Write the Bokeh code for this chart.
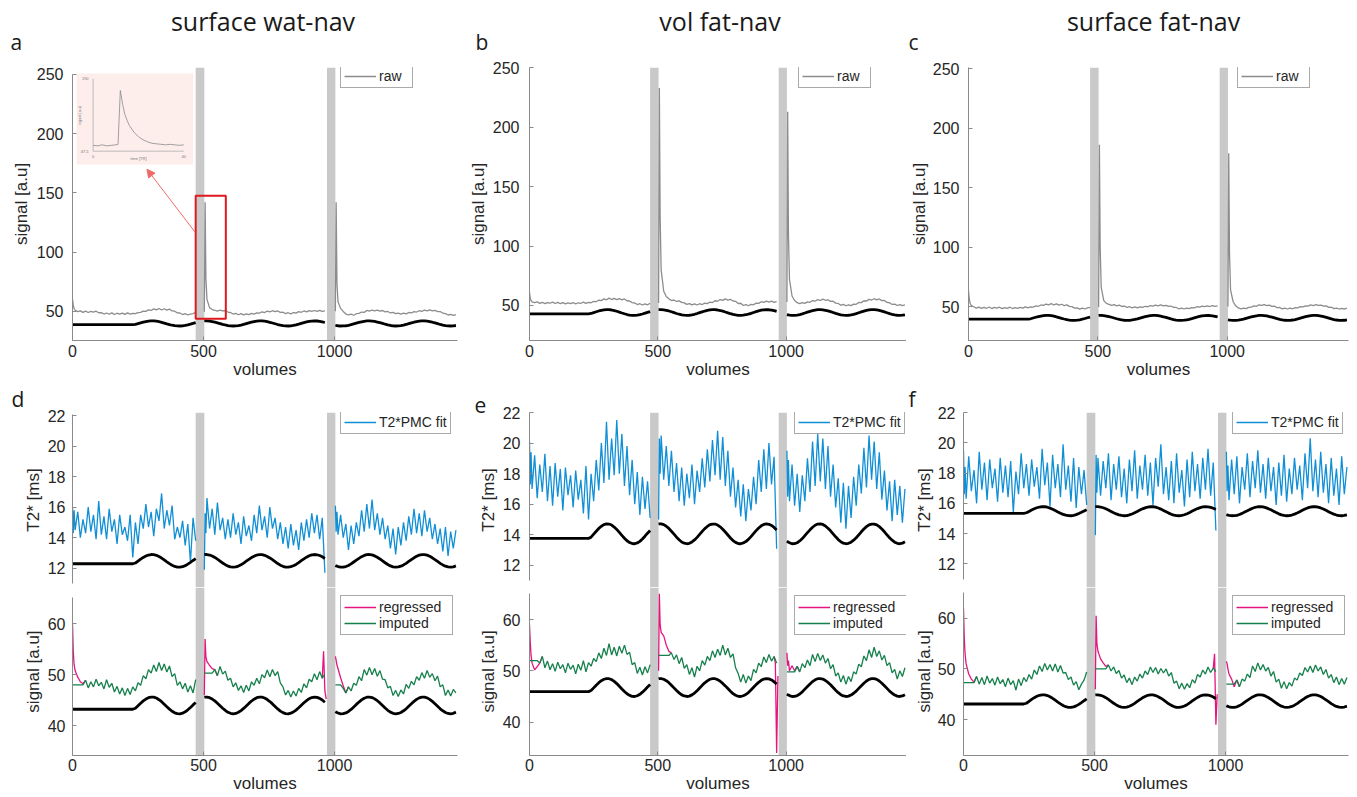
import math
from bokeh.plotting import figure
from bokeh.models import (Range1d, BoxAnnotation, Legend, LegendItem,
                          Arrow, NormalHead, FixedTicker)
from bokeh.layouts import row, column
from bokeh.embed import file_html
from bokeh.resources import INLINE
from bokeh.core.properties import value

nan = float("nan")

# ------------------------------------------------------------------ data
# sample volumes of the three runs (gaps between runs shown as grey bars)
vol_run1 = [0, 3, 6] + list(range(10, 471, 10))
vol_run2 = [503, 506, 509] + list(range(513, 964, 10))
vol_run3 = [1003, 1006, 1009] + list(range(1013, 1464, 10))
gap_bars = [(470, 503), (971, 1003)]

col_titles = ["surface wat-nav", "vol fat-nav", "surface fat-nav"]
letters_top = ["a", "b", "c"]
letters_bottom = ["d", "e", "f"]

x_ticks = [0, 500, 1000]
raw_ticks = [50, 100, 150, 200, 250]
t2_ticks = [12, 14, 16, 18, 20, 22]
sig_ticks = [40, 50, 60]

# stimulus (black trace), normalised 0 = trough, 1 = peak
stim_run1 = [0.27, 0.27, 0.27, 0.27, 0.27, 0.27, 0.27, 0.27, 0.27, 0.27,
             0.27, 0.27, 0.27, 0.27, 0.27, 0.27, 0.27, 0.27, 0.27, 0.27,
             0.27, 0.27, 0.27, 0.27, 0.27, 0.27, 0.33, 0.48, 0.63, 0.77,
             0.88, 0.96, 1.0, 0.99, 0.94, 0.84, 0.72, 0.57, 0.42, 0.28,
             0.15, 0.06, 0.01, 0.0, 0.04, 0.12, 0.24, 0.38, 0.53, 0.67]
stim_run2 = [0.99, 1.0, 1.0, 1.0, 0.96, 0.88, 0.77, 0.63, 0.48, 0.33,
             0.20, 0.09, 0.03, 0.0, 0.02, 0.09, 0.19, 0.32, 0.47, 0.62,
             0.76, 0.87, 0.96, 0.99, 0.99, 0.94, 0.85, 0.73, 0.59, 0.44,
             0.29, 0.16, 0.07, 0.01, 0.0, 0.04, 0.11, 0.22, 0.36, 0.51,
             0.66, 0.79, 0.90, 0.97, 1.0, 0.98, 0.92, 0.82, 0.69]
stim_run3 = [0.13, 0.10, 0.08, 0.05, 0.0, 0.01, 0.05, 0.14, 0.26, 0.41,
             0.56, 0.70, 0.83, 0.93, 0.99, 1.0, 0.97, 0.89, 0.78, 0.65,
             0.50, 0.35, 0.21, 0.10, 0.03, 0.0, 0.02, 0.08, 0.18, 0.30,
             0.45, 0.60, 0.74, 0.86, 0.95, 0.99, 0.99, 0.95, 0.86, 0.74,
             0.60, 0.45, 0.30, 0.18, 0.08, 0.02, 0.0, 0.03, 0.10]

# stimulus display levels (trough, peak) per panel
stim_a = (37.5, 41.8)
stim_b = (41.7, 46.5)
stim_c = (38.3, 42.5)
stim_d_t2 = (12.07, 12.9)
stim_d_sig = (42.3, 45.6)
stim_e_t2 = (13.42, 14.72)
stim_e_sig = (45.0, 48.5)
stim_f_t2 = (15.18, 15.78)
stim_f_sig = (42.4, 44.9)

# raw navigator signal (top row)
raw_a_1 = [60.0, 55.0, 52.3, 50.8, 49.6, 50.3, 49.0, 50.1, 48.9, 49.8,
           49.2, 50.0, 48.7, 48.8, 47.6, 48.5, 47.4, 48.6, 47.2, 48.3,
           47.5, 48.4, 47.3, 48.6, 47.6, 48.2, 47.9, 48.8, 49.0, 50.1,
           49.9, 51.2, 50.6, 52.0, 51.1, 52.3, 51.0, 52.1, 50.9, 51.8,
           50.2, 50.0, 48.6, 48.5, 47.2, 47.9, 46.8, 47.6, 48.0, 49.1]
raw_a_2 = [49.5, 142.0, 78.0, 60.0, 53.0, 51.4, 50.8, 50.0, 51.0, 50.2,
           50.6, 49.3, 48.9, 47.6, 48.2, 47.0, 47.9, 46.9, 47.8, 47.1,
           48.2, 47.6, 48.6, 48.3, 49.5, 48.9, 50.1, 49.4, 50.4, 49.6,
           50.2, 49.0, 49.1, 48.0, 48.7, 47.8, 48.9, 48.4, 49.6, 49.1,
           50.2, 49.5, 50.5, 49.8, 50.6, 49.9, 50.7, 49.8, 50.3]
raw_a_3 = [50.0, 142.0, 74.0, 58.0, 52.4, 49.8, 47.6, 46.8, 47.5, 46.6,
           47.9, 48.2, 49.3, 49.0, 50.6, 50.0, 51.0, 50.2, 50.9, 50.1,
           50.6, 49.4, 49.8, 48.5, 49.0, 47.9, 48.4, 47.6, 48.3, 47.8,
           48.9, 48.5, 49.6, 49.3, 50.4, 49.9, 51.0, 50.3, 51.1, 50.2,
           50.8, 49.6, 49.7, 48.3, 48.0, 46.8, 47.3, 46.5, 47.2]
raw_b_1 = [61.0, 56.0, 54.2, 53.1, 52.4, 53.0, 51.8, 52.7, 51.6, 52.5,
           51.9, 52.8, 51.7, 52.6, 51.5, 52.4, 51.3, 52.2, 51.6, 52.5,
           51.4, 52.3, 51.7, 52.9, 51.8, 52.6, 52.3, 53.5, 53.2, 54.6,
           54.1, 55.6, 54.8, 56.2, 55.0, 56.0, 54.9, 55.8, 54.7, 55.5,
           54.0, 53.8, 52.4, 52.1, 50.8, 51.5, 50.4, 51.3, 50.6, 51.8]
raw_b_2 = [52.0, 233.0, 125.0, 80.0, 62.0, 57.5, 55.6, 54.2, 54.6, 53.4,
           53.9, 52.6, 52.2, 50.9, 51.6, 50.5, 51.3, 50.4, 51.5, 50.8,
           52.0, 51.6, 52.9, 52.5, 54.0, 53.6, 55.0, 54.3, 55.6, 54.5,
           55.2, 53.8, 53.5, 51.6, 51.9, 50.0, 50.8, 49.8, 51.0, 50.6,
           52.0, 51.8, 53.2, 52.6, 53.7, 52.8, 53.6, 52.7, 53.3]
raw_b_3 = [53.0, 213.0, 110.0, 72.0, 58.0, 54.2, 52.4, 51.6, 52.5, 51.8,
           53.0, 52.7, 54.2, 53.6, 55.0, 54.2, 55.3, 54.4, 54.8, 53.5,
           53.6, 52.0, 51.7, 50.2, 50.9, 49.8, 50.6, 49.9, 51.2, 51.0,
           52.6, 52.4, 54.0, 53.7, 55.2, 54.6, 55.7, 54.8, 55.5, 54.1,
           54.3, 52.6, 52.3, 50.9, 51.2, 50.0, 50.8, 49.9, 50.6]
raw_c_1 = [63.0, 56.5, 53.0, 51.0, 49.8, 48.6, 49.5, 48.4, 49.3, 48.5,
           49.6, 48.3, 49.2, 48.6, 49.4, 48.2, 49.1, 48.5, 49.4, 48.3,
           49.0, 48.4, 49.3, 48.6, 49.7, 48.9, 49.6, 49.4, 50.5, 50.2,
           51.3, 50.9, 52.1, 51.4, 52.4, 51.3, 52.2, 51.2, 51.9, 50.8,
           51.4, 50.1, 49.9, 48.6, 48.9, 47.8, 48.6, 47.9, 48.8, 49.3]
raw_c_2 = [49.5, 186.0, 100.0, 66.0, 55.0, 52.6, 51.8, 51.0, 51.6, 50.6,
           51.2, 50.0, 50.3, 49.2, 49.8, 48.9, 49.6, 48.8, 49.7, 49.3,
           50.2, 49.8, 50.7, 50.3, 51.2, 50.6, 51.3, 50.5, 51.0, 50.1,
           50.4, 49.3, 49.2, 48.1, 48.6, 47.9, 48.7, 48.2, 49.1, 48.8,
           49.8, 49.5, 50.4, 49.9, 50.6, 50.0, 50.8, 50.1, 50.5]
raw_c_3 = [50.0, 179.0, 95.0, 64.0, 54.0, 50.6, 48.8, 48.0, 48.7, 48.2,
           49.3, 49.4, 50.5, 50.2, 51.4, 50.9, 51.6, 50.8, 51.2, 50.1,
           50.3, 49.0, 49.2, 48.0, 48.6, 47.9, 48.6, 48.1, 49.0, 48.9,
           49.9, 49.7, 50.6, 50.3, 51.3, 50.8, 51.5, 50.9, 51.2, 50.3,
           50.5, 49.3, 49.4, 48.2, 48.6, 47.9, 48.5, 47.8, 48.6]

# T2* PMC fit (ms)
t2_d_1 = [16.0, 14.3, 15.8, 14.5, 15.7, 14.0, 15.2, 14.3, 16.0, 14.4,
          15.5, 13.9, 16.4, 14.2, 15.4, 13.9, 15.9, 14.4, 15.2, 13.6,
          15.5, 14.2, 14.7, 13.8, 15.5, 12.7, 15.0, 13.6, 15.5, 14.6,
          16.2, 14.7, 15.7, 14.1, 15.9, 15.1, 16.9, 14.6, 15.8, 14.8,
          16.1, 13.9, 14.7, 14.0, 15.1, 13.5, 14.9, 12.4, 15.3, 13.8]
t2_d_2 = [11.9, 15.6, 14.3, 16.6, 14.6, 15.9, 14.2, 16.3, 14.5, 15.3,
          13.9, 15.2, 14.0, 15.6, 14.2, 15.0, 13.6, 15.4, 14.1, 14.8,
          13.8, 15.5, 14.3, 16.1, 14.5, 15.4, 14.0, 16.0, 14.6, 15.3,
          13.9, 15.0, 13.6, 14.7, 13.3, 14.9, 13.5, 14.5, 13.2, 15.0,
          13.8, 15.2, 14.0, 15.6, 14.3, 15.5, 13.9, 15.3, 11.7]
t2_d_3 = [16.1, 14.4, 15.7, 14.2, 15.5, 14.0, 14.9, 13.2, 14.8, 13.6,
          15.0, 14.1, 15.8, 14.4, 16.2, 14.6, 16.5, 14.5, 15.6, 14.2,
          15.3, 13.9, 14.8, 13.3, 14.6, 12.9, 14.7, 13.5, 15.0, 13.8,
          15.4, 14.2, 15.9, 14.3, 15.6, 14.1, 15.8, 14.4, 15.3, 13.9,
          14.9, 13.6, 14.6, 13.1, 14.7, 12.8, 14.4, 13.3, 14.5]
t2_e_1 = [20.1, 17.3, 19.4, 17.0, 19.2, 16.4, 18.6, 16.8, 19.3, 16.2,
          18.5, 15.9, 18.7, 16.5, 18.3, 15.6, 18.4, 16.6, 17.9, 15.8,
          18.2, 16.3, 17.6, 15.4, 18.5, 15.0, 18.0, 16.2, 18.9, 16.9,
          20.0, 17.4, 21.4, 17.6, 20.3, 17.9, 21.5, 18.0, 20.6, 17.2,
          19.8, 16.6, 18.9, 16.0, 18.1, 15.3, 17.8, 15.7, 17.5, 15.1]
t2_e_2 = [15.0, 20.3, 18.0, 20.5, 17.6, 19.8, 17.2, 19.5, 16.8, 18.7,
          16.2, 18.4, 15.9, 18.0, 16.4, 18.6, 16.0, 18.2, 16.8, 19.0,
          17.1, 19.6, 17.5, 20.2, 17.9, 20.8, 17.6, 20.4, 17.2, 19.5,
          16.5, 18.4, 15.8, 17.6, 15.2, 17.3, 14.9, 17.0, 15.6, 17.8,
          16.0, 18.9, 16.8, 19.6, 17.0, 20.0, 17.3, 19.1, 13.1]
t2_e_3 = [19.5, 16.5, 18.9, 16.2, 18.6, 15.9, 18.0, 15.5, 17.9, 16.2,
          19.0, 16.8, 20.1, 17.2, 20.6, 17.5, 20.3, 17.0, 19.8, 16.5,
          18.6, 15.8, 17.7, 14.8, 17.4, 14.4, 17.2, 15.1, 17.8, 15.9,
          18.6, 16.7, 19.7, 17.1, 20.5, 17.6, 20.1, 17.0, 19.4, 16.3,
          18.2, 15.6, 17.5, 14.9, 17.6, 15.3, 17.2, 14.8, 17.0]
t2_f_1 = [19.5, 16.6, 18.4, 16.3, 19.1, 16.8, 18.2, 16.0, 19.4, 16.9,
          18.7, 16.2, 18.9, 17.0, 18.3, 16.1, 19.0, 16.7, 18.5, 16.4,
          18.8, 15.4, 18.1, 16.6, 19.3, 17.0, 18.6, 16.5, 18.9, 17.1,
          18.4, 16.3, 19.6, 17.2, 18.7, 15.8, 19.2, 17.0, 18.6, 16.4,
          19.9, 16.9, 18.5, 16.1, 19.0, 15.7, 18.4, 16.6, 18.2, 15.9]
t2_f_2 = [13.9, 19.2, 16.7, 19.0, 16.5, 18.8, 17.0, 19.3, 16.2, 18.6,
          16.9, 19.1, 16.4, 18.3, 16.0, 18.9, 16.8, 19.5, 16.3, 18.5,
          16.9, 19.2, 16.5, 18.7, 15.9, 19.0, 17.1, 19.9, 16.6, 18.4,
          16.2, 18.8, 16.0, 19.3, 16.7, 18.2, 15.8, 18.9, 16.4, 19.4,
          16.8, 18.6, 16.3, 19.0, 16.9, 19.6, 16.5, 18.7, 14.2]
t2_f_3 = [19.4, 16.8, 18.5, 16.2, 18.9, 16.6, 19.1, 16.0, 18.4, 16.9,
          19.3, 16.4, 18.8, 17.0, 19.5, 16.7, 18.6, 16.3, 19.0, 16.8,
          18.4, 15.9, 18.7, 16.5, 19.2, 16.1, 18.3, 16.6, 19.0, 16.9,
          18.5, 16.2, 19.3, 17.0, 20.3, 16.8, 18.9, 16.4, 19.4, 16.7,
          18.6, 16.0, 19.0, 16.5, 18.3, 15.9, 19.1, 16.6, 18.4]

# imputed signal (a.u)
imp_d_1 = [48.0, 48.0, 48.0, 48.0, 48.0, 48.0, 48.0, 48.9, 47.4, 48.6,
           47.6, 49.1, 47.8, 48.5, 47.2, 49.0, 47.5, 48.3, 46.6, 47.7,
           46.2, 47.4, 45.9, 47.3, 46.1, 47.6, 46.8, 48.4, 47.9, 49.8,
           49.2, 51.0, 50.3, 51.9, 50.6, 52.4, 50.8, 52.1, 50.5, 51.7,
           49.6, 50.2, 47.9, 48.6, 47.2, 48.3, 46.6, 47.8, 46.4, 49.0]
imp_d_2 = [50.3, 50.3, 50.3, 50.3, 50.3, 50.3, 51.0, 49.8, 51.6, 50.1,
           50.7, 48.9, 49.3, 47.6, 48.4, 46.9, 47.8, 46.5, 47.9, 46.8,
           48.6, 47.9, 49.3, 48.2, 50.0, 49.4, 50.9, 49.6, 51.0, 49.8,
           50.6, 48.4, 47.6, 46.0, 46.9, 45.6, 46.8, 45.8, 47.3, 46.5,
           48.2, 47.4, 49.1, 48.6, 50.2, 49.0, 50.6, 49.3, 50.1]
imp_d_3 = [48.0, 48.0, 48.0, 48.0, 48.0, 47.3, 46.4, 47.6, 46.8, 48.3,
           47.9, 49.6, 48.8, 51.0, 49.9, 51.4, 50.0, 51.2, 49.7, 50.8,
           49.1, 49.0, 47.4, 47.7, 45.9, 46.9, 45.7, 47.0, 46.2, 48.1,
           47.3, 48.7, 48.0, 49.6, 48.9, 50.4, 49.3, 50.8, 49.5, 50.2,
           48.8, 49.7, 47.6, 48.0, 45.9, 47.0, 45.8, 47.1, 46.4]
imp_e_1 = [52.0, 52.0, 52.0, 52.0, 52.0, 52.0, 51.5, 52.8, 50.6, 51.9,
           50.2, 51.4, 49.9, 51.7, 50.4, 51.2, 49.6, 51.5, 50.3, 51.1,
           49.4, 51.3, 50.1, 52.0, 49.8, 51.6, 50.9, 52.4, 51.8, 53.5,
           52.4, 54.4, 53.0, 55.3, 53.1, 54.6, 52.9, 54.8, 53.4, 55.0,
           53.2, 53.6, 51.2, 51.6, 49.5, 50.7, 49.2, 50.8, 49.6, 51.2]
imp_e_2 = [53.0, 53.0, 53.0, 53.0, 53.0, 53.0, 53.0, 53.5, 52.2, 53.1,
           51.4, 52.6, 50.5, 51.2, 49.3, 50.6, 48.8, 50.9, 50.0, 52.0,
           51.1, 52.8, 52.0, 53.9, 52.6, 54.2, 53.0, 55.0, 53.1, 54.4,
           52.6, 53.3, 50.6, 49.5, 47.8, 49.3, 47.6, 49.0, 48.1, 50.3,
           49.6, 51.5, 50.8, 52.7, 51.6, 53.2, 51.9, 52.8, 51.5]
imp_e_3 = [49.8, 49.8, 49.8, 49.8, 49.8, 49.8, 50.9, 49.8, 51.4, 50.6,
           52.1, 51.0, 53.2, 51.8, 53.4, 52.0, 53.1, 51.5, 52.4, 50.4,
           51.2, 49.0, 49.6, 47.8, 49.1, 47.4, 48.9, 47.9, 49.8, 49.4,
           51.3, 50.8, 52.9, 52.0, 54.1, 52.6, 54.6, 52.8, 53.9, 52.1,
           53.0, 51.0, 51.6, 49.6, 50.3, 48.4, 50.0, 48.9, 50.6]
imp_f_1 = [47.3, 47.3, 47.3, 47.3, 47.3, 47.3, 47.3, 48.5, 47.0, 48.3,
           46.9, 48.6, 47.2, 48.1, 46.8, 48.4, 47.1, 47.9, 46.5, 48.2,
           46.9, 47.7, 45.8, 48.0, 46.7, 48.3, 47.5, 48.9, 48.0, 49.8,
           48.9, 50.6, 49.5, 51.1, 49.8, 50.9, 49.6, 51.0, 49.4, 50.7,
           49.2, 49.3, 47.9, 48.4, 46.8, 47.5, 45.9, 47.0, 47.8, 49.4]
imp_f_2 = [50.0, 50.0, 50.0, 50.0, 50.0, 50.0, 50.0, 50.8, 49.6, 50.4,
           49.1, 49.7, 48.2, 48.8, 47.3, 48.2, 46.9, 48.4, 47.6, 49.0,
           48.2, 49.6, 48.9, 50.4, 49.3, 50.3, 49.0, 50.1, 49.2, 50.0,
           48.6, 49.3, 47.2, 47.6, 46.1, 47.2, 46.0, 47.1, 46.3, 47.9,
           47.2, 48.9, 48.4, 49.8, 49.0, 50.4, 49.3, 50.2, 49.5]
imp_f_3 = [47.0, 47.0, 47.0, 47.0, 47.0, 47.0, 47.8, 46.5, 48.0, 47.6,
           49.0, 48.3, 50.6, 49.5, 51.2, 49.8, 50.9, 49.6, 50.3, 48.6,
           49.5, 47.4, 48.0, 46.2, 47.5, 46.1, 47.3, 46.6, 48.2, 47.8,
           49.2, 48.7, 50.3, 49.4, 50.6, 49.3, 50.8, 49.6, 50.4, 48.9,
           49.9, 48.2, 48.9, 47.3, 48.4, 46.9, 48.1, 47.0, 48.3]

# regressed signal: visible only at run onsets / end of run 2
reg_vol = [0, 3, 6, 10, 20, 30, 40, 50, nan,
           503, 506, 509, 513, 523, 533, 543, 553, nan,
           953, 958, 963, 968, nan,
           1003, 1006, 1009, 1013, 1023, 1033, 1043, 1053]
reg_d = [60.0, 54.5, 52.0, 50.8, 49.5, 48.6, 48.2, 48.9, nan,
         46.0, 57.0, 53.5, 52.6, 51.8, 51.2, 51.0, 49.8, nan,
         49.3, 54.6, 46.8, 45.2, nan,
         53.6, 52.8, 51.9, 51.2, 49.4, 47.8, 46.4, 47.6]
reg_e = [59.0, 55.5, 53.0, 51.5, 50.2, 50.8, 51.5, 52.8, nan,
         50.0, 65.0, 59.0, 57.5, 56.8, 55.0, 53.8, 53.5, nan,
         52.8, 51.5, 34.0, 49.0, nan,
         53.5, 51.0, 52.0, 50.0, 51.0, 50.0, 50.9, 49.8]
reg_f = [62.0, 56.0, 53.0, 51.0, 49.0, 48.0, 47.4, 48.5, nan,
         46.0, 60.5, 55.0, 53.5, 52.0, 51.2, 50.5, 50.8, nan,
         50.2, 53.0, 39.0, 45.0, nan,
         51.5, 51.0, 50.0, 49.0, 48.0, 46.5, 47.8, 46.5]

# inset of panel a (zoom on the first spike)
inset_tr = [0, 2, 4, 6, 8, 10, 11, 12, 13, 14, 15, 16, 18, 20, 22, 24,
            26, 28, 30, 32, 34, 36, 38, 40]
inset_sig = [59, 58, 60, 58, 59, 60, 61, 167, 140, 120, 108, 98, 85, 76,
             70, 66, 63, 62, 61, 60, 61, 60, 59, 60]
inset_xlim = [0, 40]
inset_ylim = [47.5, 190]

# ------------------------------------------------------------------ style
TICK_FONT = "Liberation Sans"
HEAD_FONT = "Open Sans"
TEXT_COL = "#262626"
HEAD_COL = "#1a1a1a"
AXIS_COL = "#8a8a8a"
BAR_COL = "#c9c9c9"
RAW_COL = "#8c8c8c"
T2_COL = "#108fd6"
REG_COL = "#e5157f"
IMP_COL = "#15804c"
STIM_COL = "#000000"
XMAX = 1469
TOTAL_W = 1356


def runs(a, b, c):
    return list(a) + [nan] + list(b) + [nan] + list(c)


def fit(xs, ys):
    n = min(len(xs), len(ys))
    return list(xs[:n]), list(ys[:n])


vol = runs(vol_run1, vol_run2, vol_run3)
stim = runs(stim_run1, stim_run2, stim_run3)


def scaled(levels):
    lo, hi = levels
    return [lo + s * (hi - lo) for s in stim]


def make_fig(w, h, yr, ybounds, yticks, ylabel, bl, br, bt, bb, xaxis,
             lstand, astand, xstand=6):
    p = figure(width=w, height=h, x_range=Range1d(0, XMAX),
               y_range=Range1d(yr[0], yr[1]),
               output_backend="svg", toolbar_location=None,
               x_axis_location=("below" if xaxis else None),
               min_border_left=bl, min_border_right=br,
               min_border_top=bt, min_border_bottom=bb)
    p.outline_line_color = None
    p.grid.visible = False
    p.background_fill_color = "white"
    p.border_fill_color = "white"
    yax = p.yaxis[0]
    yax.ticker = FixedTicker(ticks=yticks)
    yax.bounds = ybounds
    yax.axis_label = ylabel
    yax.major_label_standoff = lstand
    yax.axis_label_standoff = astand
    if xaxis:
        xax = p.xaxis[0]
        xax.ticker = FixedTicker(ticks=x_ticks)
        xax.axis_label = "volumes"
        xax.major_label_standoff = xstand
        xax.axis_label_standoff = 0
    for ax in p.axis:
        ax.axis_line_color = AXIS_COL
        ax.axis_line_width = 1
        ax.major_tick_line_color = AXIS_COL
        ax.major_tick_in = 4
        ax.major_tick_out = 0
        ax.minor_tick_line_color = None
        ax.major_label_text_font = TICK_FONT
        ax.major_label_text_font_size = "16px"
        ax.major_label_text_color = TEXT_COL
        ax.axis_label_text_font = TICK_FONT
        ax.axis_label_text_font_size = "17px"
        ax.axis_label_text_font_style = "normal"
        ax.axis_label_text_color = TEXT_COL
    for a, b in gap_bars:
        p.add_layout(BoxAnnotation(left=a, right=b, fill_color=BAR_COL,
                                   fill_alpha=1.0, line_color=None,
                                   level="underlay"))
    return p


def add_legend(p, pairs, loc, label_width):
    items = [LegendItem(label=lab, renderers=[r]) for lab, r in pairs]
    lg = Legend(items=items, location=loc,
                border_line_color="#555555", border_line_width=1,
                background_fill_color="white", background_fill_alpha=1.0,
                label_text_font=TICK_FONT, label_text_font_size="14px",
                label_text_color=TEXT_COL, glyph_width=32, glyph_height=14,
                label_height=14, label_width=label_width, label_standoff=3,
                padding=3, spacing=0, margin=0)
    p.add_layout(lg)


def text_strip(h):
    p = figure(width=TOTAL_W, height=h, x_range=Range1d(0, TOTAL_W),
               y_range=Range1d(0, h), output_backend="svg",
               toolbar_location=None, x_axis_location=None,
               y_axis_location=None, min_border=0)
    p.outline_line_color = None
    p.grid.visible = False
    p.background_fill_color = "white"
    p.border_fill_color = "white"
    return p


# column geometry
cols = [
    dict(w=465, bl=72, br=8, ls=(9, 3), lsb=(7, 2), lt=268, lb=268, lo=-61),
    dict(w=441, bl=64, br=0, ls=(10, 2), lsb=(9, 2), lt=269, lb=265, lo=-55),
    dict(w=450, bl=57, br=8, ls=(9, 1), lsb=(8, 1), lt=269, lb=269, lo=-55),
]


def top_panel(c, yr, yb, raw_vals, stim_lv):
    p = make_fig(c["w"], 324, yr, yb, raw_ticks, "signal [a.u]",
                 c["bl"], c["br"], 9, 42, True, c["ls"][0], c["ls"][1], 4)
    x, y = fit(vol, raw_vals)
    r = p.line(x, y, line_color=RAW_COL, line_width=1.3)
    x, y = fit(vol, scaled(stim_lv))
    p.line(x, y, line_color=STIM_COL, line_width=2.8)
    add_legend(p, [("raw", r)], (c["lt"], 252), 30)
    return p


def t2_panel(c, yr, yb, vals, stim_lv, letter):
    p = make_fig(c["w"], 205, yr, yb, t2_ticks, "T2* [ms]",
                 c["bl"], c["br"], 30, 0, False, c["lsb"][0], c["lsb"][1])
    # panel letter as the figure title, shifted left of the frame
    p.title.text = letter
    p.title.align = "left"
    p.title.offset = c["lo"]
    p.title.standoff = 0
    p.title.vertical_align = "bottom"
    p.title.text_font = HEAD_FONT
    p.title.text_font_size = "21px"
    p.title.text_font_style = "normal"
    p.title.text_color = HEAD_COL
    x, y = fit(vol, vals)
    r = p.line(x, y, line_color=T2_COL, line_width=1.3)
    x, y = fit(vol, scaled(stim_lv))
    p.line(x, y, line_color=STIM_COL, line_width=2.8)
    add_legend(p, [("T2*PMC fit", r)], (c["lb"], 153), 20)
    return p


def sig_panel(c, yr, yb, imp_vals, reg_vals, stim_lv):
    p = make_fig(c["w"], 209, yr, yb, sig_ticks, "signal [a.u]",
                 c["bl"], c["br"], 0, 41, True, c["lsb"][0], c["lsb"][1], 3)
    x, y = fit(reg_vol, reg_vals)
    r_reg = p.line(x, y, line_color=REG_COL, line_width=1.3)
    x, y = fit(vol, imp_vals)
    r_imp = p.line(x, y, line_color=IMP_COL, line_width=1.3)
    x, y = fit(vol, scaled(stim_lv))
    p.line(x, y, line_color=STIM_COL, line_width=2.8)
    add_legend(p, [("regressed", r_reg), ("imputed", r_imp)], (c["lb"], 120), 70)
    return p


pa = top_panel(cols[0], (25.25, 255.9), (25.25, 250.3), runs(raw_a_1, raw_a_2, raw_a_3), stim_a)
pb = top_panel(cols[1], (20.55, 250.25), (20.55, 250.25), runs(raw_b_1, raw_b_2, raw_b_3), stim_b)
pc = top_panel(cols[2], (21.4, 251.1), (21.4, 251.1), runs(raw_c_1, raw_c_2, raw_c_3), stim_c)

pd_t2 = t2_panel(cols[0], (10.74, 22.2), (11.0, 22.05), runs(t2_d_1, t2_d_2, t2_d_3), stim_d_t2, letters_bottom[0])
pe_t2 = t2_panel(cols[1], (10.56, 22.0), (11.0, 22.0), runs(t2_e_1, t2_e_2, t2_e_3), stim_e_t2, letters_bottom[1])
pf_t2 = t2_panel(cols[2], (10.44, 22.0), (11.0, 22.0), runs(t2_f_1, t2_f_2, t2_f_3), stim_f_t2, letters_bottom[2])

pd_sig = sig_panel(cols[0], (34.1, 67.14), (34.1, 65.1), runs(imp_d_1, imp_d_2, imp_d_3), reg_d, stim_d_sig)
pe_sig = sig_panel(cols[1], (33.5, 66.24), (33.5, 65.0), runs(imp_e_1, imp_e_2, imp_e_3), reg_e, stim_e_sig)
pf_sig = sig_panel(cols[2], (32.9, 66.1), (32.9, 65.1), runs(imp_f_1, imp_f_2, imp_f_3), reg_f, stim_f_sig)

# ---- inset + zoom box in panel a
pa.extra_x_ranges = {"ix": Range1d(-9.1, 160.8)}
pa.extra_y_ranges = {"iy": Range1d(-325.1, 212.2)}
pa.add_layout(BoxAnnotation(left=15.3, right=461, bottom=174, top=250.8,
                            fill_color="#fdeeec", fill_alpha=1.0,
                            line_color=None, level="underlay"))
pa.line([inset_xlim[0], inset_xlim[0], inset_xlim[1]],
        [inset_ylim[1], inset_ylim[0], inset_ylim[0]],
        x_range_name="ix", y_range_name="iy",
        line_color="#a5a5a5", line_width=0.7)
pa.line(inset_tr, inset_sig, x_range_name="ix", y_range_name="iy",
        line_color="#8a8a8a", line_width=0.8)
pa.text(x=[-2, -2], y=[inset_ylim[1], inset_ylim[0]], text=["190", "47.5"],
        x_range_name="ix", y_range_name="iy", text_font=value(TICK_FONT),
        text_font_size=value("4px"), text_color="#777777",
        text_align="right", text_baseline="middle")
pa.text(x=[inset_xlim[0], inset_xlim[1], 20], y=[38, 38, 33],
        text=["0", "40", "time [TR]"],
        x_range_name="ix", y_range_name="iy", text_font=value(TICK_FONT),
        text_font_size=value("4px"), text_color="#777777",
        text_align="center", text_baseline="middle")
pa.text(x=[-6], y=[118], text=["signal [a.u]"], angle=math.pi / 2,
        x_range_name="ix", y_range_name="iy", text_font=value(TICK_FONT),
        text_font_size=value("4px"), text_color="#777777",
        text_align="center", text_baseline="middle")
pa.add_layout(BoxAnnotation(left=470, right=585, bottom=43.7, top=147.5,
                            fill_alpha=0.0, line_color="#e0191e",
                            line_alpha=1.0, line_width=2))
pa.add_layout(Arrow(end=NormalHead(size=8, fill_color="#f06a6a",
                                   line_color="#f06a6a"),
                    x_start=468, y_start=116.7, x_end=284, y_end=170,
                    line_color="#f06a6a", line_width=1))

# ---- header: column titles + a/b/c
header = text_strip(58)
header.text(x=[262.5, 719.5, 1153], y=[37.5, 37.5, 37.5], text=col_titles,
            text_font=value(HEAD_FONT), text_font_size=value("25px"),
            text_color=HEAD_COL, text_align="center",
            text_baseline="alphabetic")
header.text(x=[10, 475, 908], y=[17, 17, 17], text=letters_top,
            text_font=value(HEAD_FONT), text_font_size=value("21px"),
            text_color=HEAD_COL, text_align="left",
            text_baseline="alphabetic")

layout = column(header,
                row(pa, pb, pc),
                row(pd_t2, pe_t2, pf_t2),
                row(pd_sig, pe_sig, pf_sig))

open("out.html", "w").write(file_html(layout, INLINE))
